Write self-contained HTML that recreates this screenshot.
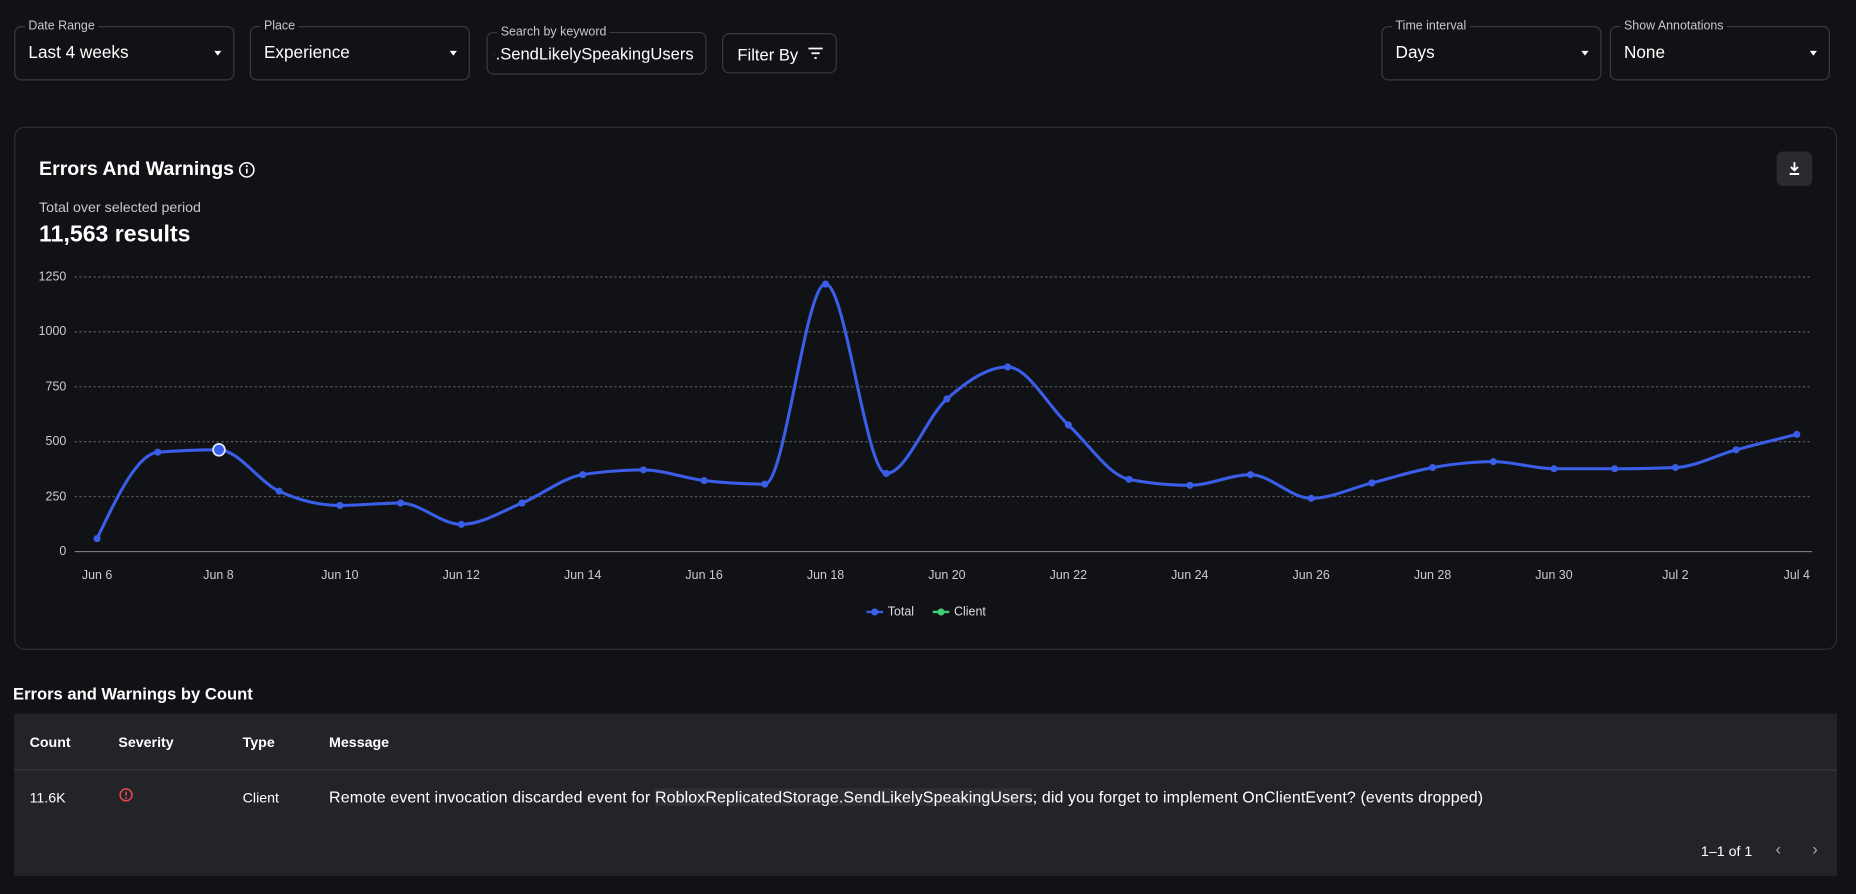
<!DOCTYPE html>
<html><head><meta charset="utf-8">
<style>
html,body{margin:0;padding:0;background:#111215;overflow:hidden;width:1856px;height:893px}
#w{position:absolute;left:0;top:0;width:1568px;height:755px;transform:scale(1.18367);transform-origin:0 0;font-family:"Liberation Sans",sans-serif;color:#fff}
.dd{position:absolute;border:1px solid #3a3b40;border-radius:6px;box-sizing:border-box}
.dd .lb{position:absolute;top:-7px;left:8px;background:#111215;padding:0 3px;font-size:10.5px;color:#c8c8c8}
.dd .v{position:absolute;left:11px;top:14px;font-size:14.5px}
.dd .ar{position:absolute;right:10px;top:20px;width:0;height:0;border-left:3.5px solid transparent;border-right:3.5px solid transparent;border-top:4px solid #fff}
.abs{position:absolute}
.yl{position:absolute;right:1512px;font-size:10.5px;color:#ccc;text-align:right}
.xl{position:absolute;top:480px;font-size:10.5px;color:#ccc;transform:translateX(-50%)}
.th{position:absolute;top:620px;font-size:12px;font-weight:bold}
</style></head><body><div id="w">
<div class="dd" style="left:12px;top:22px;width:186px;height:46px"><span class="lb">Date Range</span><span class="v">Last 4 weeks</span><span class="ar"></span></div>
<div class="dd" style="left:211px;top:22px;width:186px;height:46px"><span class="lb">Place</span><span class="v">Experience</span><span class="ar"></span></div>
<div class="dd" style="left:411px;top:27px;width:186px;height:36px"><span class="lb">Search by keyword</span><div class="abs" style="left:6px;right:10px;top:9px;overflow:hidden;white-space:nowrap;direction:rtl;font-size:14px">e.SendLikelySpeakingUsers</div></div>
<div class="dd" style="left:610px;top:28px;width:97px;height:34px"><span class="v" style="top:9px;left:12px;font-size:14px">Filter By</span>
<svg class="abs" style="left:71px;top:10px" width="14" height="12"><path d="M1 2h12M3.5 6h7M6 10h2" stroke="#fff" stroke-width="1.5"/></svg></div>
<div class="dd" style="left:1167px;top:22px;width:186px;height:46px"><span class="lb">Time interval</span><span class="v">Days</span><span class="ar"></span></div>
<div class="dd" style="left:1360px;top:22px;width:186px;height:46px"><span class="lb">Show Annotations</span><span class="v">None</span><span class="ar"></span></div>

<div class="abs" style="left:12px;top:107px;width:1540px;height:442px;border:1px solid #2e2f33;border-radius:9px;box-sizing:border-box"></div>
<div class="abs" style="left:33px;top:134px;font-size:16.5px;font-weight:bold">Errors And Warnings</div>
<svg class="abs" style="left:201px;top:136px" width="15" height="15"><circle cx="7.5" cy="7.5" r="6" stroke="#fff" stroke-width="1.3" fill="none"/><path d="M7.5 6.5v4" stroke="#fff" stroke-width="1.4"/><circle cx="7.5" cy="4.4" r="0.9" fill="#fff"/></svg>
<div class="abs" style="left:33px;top:168px;font-size:12px;color:#c8c8c8">Total over selected period</div>
<div class="abs" style="left:33px;top:187px;font-size:19.5px;font-weight:bold">11,563 results</div>
<div class="abs" style="left:1501px;top:128px;width:30px;height:29px;background:#2a2b30;border-radius:5px"><svg width="30" height="29"><path d="M15 9v7M12 13l3 3 3-3M11 19h8" stroke="#fff" stroke-width="1.6" fill="none"/></svg></div>

<div class="yl" style="top:228px">1250</div>
<div class="yl" style="top:274px">1000</div>
<div class="yl" style="top:321px">750</div>
<div class="yl" style="top:367px">500</div>
<div class="yl" style="top:414px">250</div>
<div class="yl" style="top:460px">0</div>
<div id="xls"></div>
<svg class="abs" style="left:0;top:0" width="1568" height="560" id="ch">
<g stroke="#6a6b70" stroke-width="0.8" stroke-dasharray="2 2">
<line x1="63" x2="1531" y1="234" y2="234"/><line x1="63" x2="1531" y1="280.4" y2="280.4"/><line x1="63" x2="1531" y1="326.8" y2="326.8"/><line x1="63" x2="1531" y1="373.2" y2="373.2"/><line x1="63" x2="1531" y1="419.6" y2="419.6"/></g>
<line x1="63" x2="1531" y1="466" y2="466" stroke="#8a8b90" stroke-width="0.8"/>
<path id="ln" fill="none" stroke="#3b5ee8" stroke-width="2.6"/>
<g id="pts" fill="#3b5ee8"></g>
<circle cx="185" cy="380" r="5" fill="#3b5ee8" stroke="#dfe6ff" stroke-width="1.5"/>
<line x1="732" x2="746" y1="517" y2="517" stroke="#3b5ee8" stroke-width="2"/><circle cx="739" cy="517" r="3" fill="#3b5ee8"/>
<line x1="788" x2="802" y1="517" y2="517" stroke="#3ecf7a" stroke-width="2"/><circle cx="795" cy="517" r="3" fill="#3ecf7a"/>
</svg>
<div class="abs" style="left:750px;top:511px;font-size:10.5px;color:#ddd">Total</div>
<div class="abs" style="left:806px;top:511px;font-size:10.5px;color:#ddd">Client</div>

<div class="abs" style="left:11px;top:578px;font-size:14px;font-weight:bold">Errors and Warnings by Count</div>
<div class="abs" style="left:12px;top:603px;width:1540px;height:137px;background:#232428"></div>
<div class="abs" style="left:12px;top:650px;width:1540px;height:1px;background:#3a3b40"></div>
<div class="th" style="left:25px">Count</div>
<div class="th" style="left:100px">Severity</div>
<div class="th" style="left:205px">Type</div>
<div class="th" style="left:278px">Message</div>
<div class="abs" style="left:25px;top:667px;font-size:12px">11.6K</div>
<svg class="abs" style="left:100px;top:665px" width="13" height="13"><circle cx="6.5" cy="6.5" r="5" stroke="#e5484d" stroke-width="1.3" fill="none"/><path d="M6.5 3.8v3.4" stroke="#e5484d" stroke-width="1.3"/><circle cx="6.5" cy="9.1" r="0.8" fill="#e5484d"/></svg>
<div class="abs" style="left:205px;top:667px;font-size:12px">Client</div>
<div class="abs" style="left:278px;top:666px;font-size:13.5px;white-space:nowrap;letter-spacing:0.1px">Remote event invocation discarded event for <span style="background:#2e2f34">RobloxReplicatedStorage.SendLikelySpeakingUsers</span>; did you forget to implement OnClientEvent? (events dropped)</div>
<div class="abs" style="left:1437px;top:712px;font-size:12px">1–1 of 1</div>
<div class="abs" style="left:1500px;top:709px;font-size:14px;color:#aaa">‹</div>
<div class="abs" style="left:1531px;top:709px;font-size:14px;color:#aaa">›</div>
</div>
<script>
var ys=[455,382,380,415,427,425,443,425,401,397,406,409,240,400,337,310,359,405,410,401,421,408,395,390,396,396,395,380,367];
var x0=82,dx=(1518-82)/28,n=ys.length,P=ys.map(function(y,i){return [x0+i*dx,y]});
// monotone X
var s=[],m=[];for(var i=0;i<n-1;i++)s.push((ys[i+1]-ys[i])/dx);
for(var i=0;i<n;i++){if(i==0)m.push(s[0]);else if(i==n-1)m.push(s[n-2]);else{var a=s[i-1],b=s[i];if(a*b<=0)m.push(0);else{var h=dx;var p=(a+b)/2;m.push((Math.sign(a)+Math.sign(b))*Math.min(Math.abs(a),Math.abs(b),0.5*Math.abs(p)));}}}
m[0]=(3*s[0]-m[1])/2;m[n-1]=(3*s[n-2]-m[n-2])/2;
var d="M"+P[0][0]+","+P[0][1];
for(var i=0;i<n-1;i++){var t=dx/3;d+=" C"+(P[i][0]+t)+","+(P[i][1]+m[i]*t)+" "+(P[i+1][0]-t)+","+(P[i+1][1]-m[i+1]*t)+" "+P[i+1][0]+","+P[i+1][1];}
document.getElementById("ln").setAttribute("d",d);
var g=document.getElementById("pts"),q="";P.forEach(function(p){q+='<circle cx="'+p[0]+'" cy="'+p[1]+'" r="3"/>'});g.innerHTML=q;
var L=["Jun 6","Jun 8","Jun 10","Jun 12","Jun 14","Jun 16","Jun 18","Jun 20","Jun 22","Jun 24","Jun 26","Jun 28","Jun 30","Jul 2","Jul 4"],h="";
L.forEach(function(l,i){h+='<div class="xl" style="left:'+(x0+i*2*dx)+'px">'+l+'</div>'});document.getElementById("xls").innerHTML=h;
</script>
</body></html>
